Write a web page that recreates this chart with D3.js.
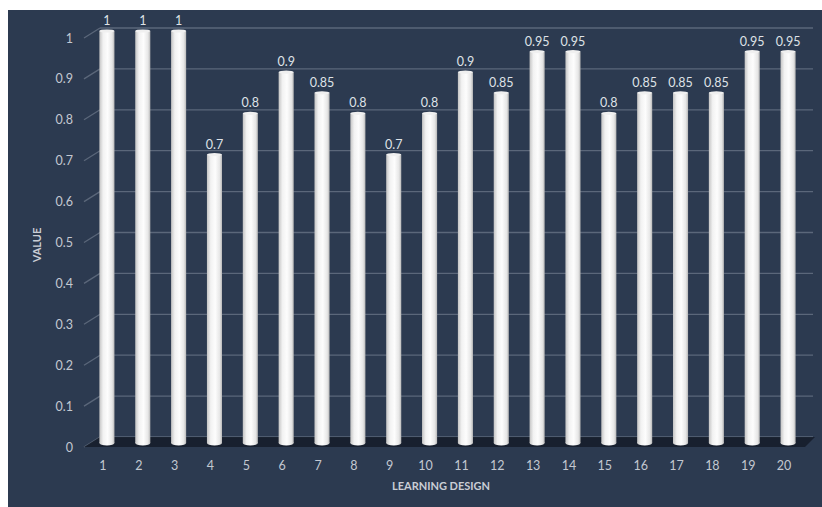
<!DOCTYPE html>
<html>
<head>
<meta charset="utf-8">
<script src="https://cdn.jsdelivr.net/npm/d3@7"></script>
<style>
  html, body { margin: 0; padding: 0; background: #ffffff; }
  svg { display: block; }
</style>
</head>
<body>
<svg id="chart" width="822" height="507"></svg>
<script>
// Learning design scores
const designs = ["1","2","3","4","5","6","7","8","9","10","11","12","13","14","15","16","17","18","19","20"];
const values = [1, 1, 1, 0.7, 0.8, 0.9, 0.85, 0.8, 0.7, 0.8, 0.9, 0.85, 0.95, 0.95, 0.8, 0.85, 0.85, 0.85, 0.95, 0.95];
const yTicks = [0, 0.1, 0.2, 0.3, 0.4, 0.5, 0.6, 0.7, 0.8, 0.9, 1];
const xTitle = "LEARNING DESIGN";
const yTitle = "VALUE";

const svg = d3.select("#chart");
const W = 822, H = 507;
const FONT = "Lato, 'Open Sans', sans-serif";

// panel
svg.append("rect").attr("x", 8).attr("y", 10).attr("width", W - 8).attr("height", H - 10)
  .attr("fill", "#2c3a50");

// 3D depth offset between front plane and back wall
const depthX = 16, depthY = 10;

// back-wall scale (gridlines) and bar scale
const yWall = d3.scaleLinear().domain([0, 1]).range([437, 28]);
const yBar = d3.scaleLinear().domain([0, 1]).range([443, 31]);
const x = d3.scaleBand().domain(designs).range([89, 806]).paddingInner(0.58).paddingOuter(0.29);

const defs = svg.append("defs");
const grad = defs.append("linearGradient").attr("id", "barGrad").attr("x1", "0").attr("x2", "1").attr("y1", "0").attr("y2", "0");
grad.append("stop").attr("offset", "0%").attr("stop-color", "#c4c4c4");
grad.append("stop").attr("offset", "25%").attr("stop-color", "#f2f2f2");
grad.append("stop").attr("offset", "55%").attr("stop-color", "#fdfdfd");
grad.append("stop").attr("offset", "85%").attr("stop-color", "#e6e6e6");
grad.append("stop").attr("offset", "100%").attr("stop-color", "#b8b8b8");

// gridlines on back wall + diagonal side-wall strokes
const grid = svg.append("g");
grid.selectAll("line.h").data(yTicks).join("line")
  .attr("x1", 84 + depthX).attr("x2", 813)
  .attr("y1", d => yWall(d)).attr("y2", d => yWall(d))
  .attr("stroke", "#8a93a3").attr("stroke-opacity", 0.5).attr("stroke-width", 1.3);
grid.selectAll("line.d").data(yTicks).join("line")
  .attr("x1", 84).attr("x2", 84 + depthX)
  .attr("y1", d => yWall(d) + depthY).attr("y2", d => yWall(d))
  .attr("stroke", "#8a93a3").attr("stroke-opacity", 0.5).attr("stroke-width", 1.3);

// floor
const floorY0 = yWall(0), floorY1 = yWall(0) + depthY;
svg.append("path")
  .attr("d", `M${84 + depthX},${floorY0} L815,${floorY0} L805,${floorY1} L84,${floorY1} Z`)
  .attr("fill", "#161e2b").attr("opacity", 0.9);

// y tick labels
svg.append("g").selectAll("text").data(yTicks).join("text")
  .attr("x", 73).attr("y", d => yWall(d) + depthY + 4.5)
  .attr("text-anchor", "end")
  .attr("font-family", FONT).attr("font-size", 12.5)
  .attr("fill", "#c3c8d1")
  .text(d => d3.format("~g")(d));

// bars (cylinders)
const bars = svg.append("g");
const bw = x.bandwidth();
bars.selectAll("rect").data(values).join("rect")
  .attr("x", (d, i) => x(designs[i]))
  .attr("y", d => yBar(d))
  .attr("width", bw)
  .attr("height", d => yBar(0) - yBar(d))
  .attr("fill", "url(#barGrad)");
bars.selectAll("ellipse.base").data(values).join("ellipse")
  .attr("class", "base")
  .attr("cx", (d, i) => x(designs[i]) + bw / 2)
  .attr("cy", yBar(0))
  .attr("rx", bw / 2).attr("ry", 2.5)
  .attr("fill", "url(#barGrad)");
bars.selectAll("ellipse.top").data(values).join("ellipse")
  .attr("class", "top")
  .attr("cx", (d, i) => x(designs[i]) + bw / 2)
  .attr("cy", d => yBar(d))
  .attr("rx", bw / 2).attr("ry", 1.6)
  .attr("fill", "#f0f0f0");

// value labels
svg.append("g").selectAll("text").data(values).join("text")
  .attr("x", (d, i) => x(designs[i]) + bw / 2)
  .attr("y", d => yBar(d) - 6)
  .attr("text-anchor", "middle")
  .attr("font-family", FONT).attr("font-size", 12.5)
  .attr("fill", "#dfe2e7")
  .text(d => d3.format("~g")(d));

// x tick labels
svg.append("g").selectAll("text").data(designs).join("text")
  .attr("x", d => x(d) + bw / 2 - 4)
  .attr("y", 469.5)
  .attr("text-anchor", "middle")
  .attr("font-family", FONT).attr("font-size", 12.5)
  .attr("fill", "#c3c8d1")
  .text(d => d);

// axis titles
svg.append("text")
  .attr("x", 441).attr("y", 490)
  .attr("text-anchor", "middle")
  .attr("font-family", FONT).attr("font-size", 11).attr("font-weight", "bold")
  .attr("fill", "#c9cdd5")
  .text(xTitle);
svg.append("text")
  .attr("transform", "translate(41,245) rotate(-90)")
  .attr("text-anchor", "middle")
  .attr("font-family", FONT).attr("font-size", 11).attr("font-weight", "bold")
  .attr("fill", "#c9cdd5")
  .text(yTitle);
</script>
</body>
</html>
